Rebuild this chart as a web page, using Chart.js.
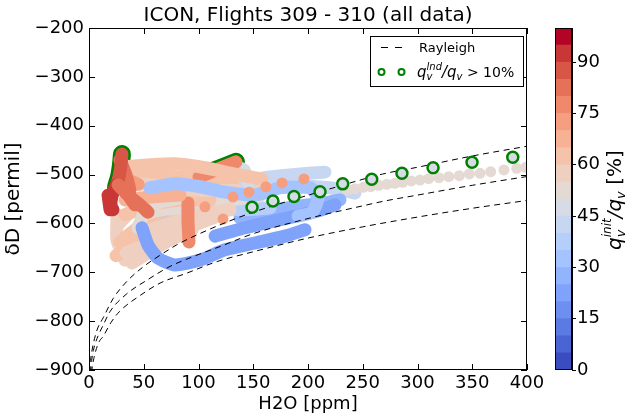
<!DOCTYPE html>
<html><head><meta charset="utf-8">
<script src="https://cdn.jsdelivr.net/npm/chart.js@4.4.0/dist/chart.umd.min.js"></script>
<style>
html,body{margin:0;padding:0;background:#fff;}
#wrap{position:relative;width:629px;height:416px;overflow:hidden;}
#main{position:absolute;left:0;top:0;width:629px;height:416px;}
#cbar{position:absolute;left:540px;top:0;width:89px;height:416px;}
</style></head><body>
<div id="wrap"><canvas id="main" width="629" height="416"></canvas><canvas id="cbar" width="89" height="416"></canvas></div>
<script>
// ---------- axis ticks ----------
const xTicks = [0,50,100,150,200,250,300,350,400];
const yTicks = [-900,-800,-700,-600,-500,-400,-300,-200];
const cbTicks = [0,15,30,45,60,75,90];
const cbEdges = [0,5,10,15,20,25,30,35,40,45,50,55,60,65,70,75,80,85,90,95,100];

// ---------- Rayleigh curves ----------
const rayTopX = [0.8,1.5,3,5,8,13,22,34,50,65,80,100,125,150,187,225,268,300,350,400];
const rayTopY = [-905,-880,-857,-836,-814,-793,-754,-720,-688,-665,-644,-622,-598,-577,-551,-526,-499,-485,-462,-442];
const rayMidX = [1.5,2.5,4,6,8.5,13,19,34,53,74,95,120,150,200,250,268,300,350,400];
const rayMidY = [-905,-880,-860,-844,-829,-808,-781,-745,-716,-688,-668,-647,-621,-590,-564,-555,-542,-522,-504];
const rayLowX = [2.2,3.9,6,9,13,20,28,47,65,89,117,150,200,250,300,350,400];
const rayLowY = [-905,-882,-862,-843,-831,-803,-780,-747,-722,-702,-678,-658,-630,-607,-587,-569,-553];

// ---------- flight tracks: [H2O ppm, dD permil] ----------
const trackR1 = [[30.1,-458],[29.2,-480],[27.4,-505],[24.7,-525]];
const trackR2 = [[24.7,-521],[21.0,-544],[20.1,-564],[21.9,-572]];
const trackR3 = [[26.5,-521],[35.6,-542],[42.0,-562]];
const trackR4 = [[100.5,-505],[115.1,-491],[134.2,-474]];
const trackR5 = [[28.3,-470],[33.8,-501],[37.4,-532]];
const trackR6 = [[17.4,-542],[19.2,-572]];
const trackS1 = [[90.4,-558],[90.4,-593],[91.3,-638]];
const trackS3 = [[37.4,-546],[46.6,-562],[53.9,-577]];
const trackS4 = [[28.0,-500],[37.0,-512],[45.0,-520]];
const trackP1 = [[32.9,-484],[55.7,-480],[78.5,-478],[105.9,-486],[133.3,-499],[158.0,-509]];
const trackP2 = [[35.6,-517],[64.8,-523],[101.4,-532],[137.9,-532],[154.3,-523]];
const trackP3 = [[33.8,-660],[55.7,-640],[78.5,-618],[101.4,-599],[115.1,-587]];
const trackP4 = [[39.3,-681],[55.7,-658],[74.0,-634],[94.1,-613]];
const trackP5 = [[28.3,-638],[42.0,-613],[55.7,-589],[74.0,-564]];
const trackP6 = [[26.5,-603],[37.4,-577],[51.1,-562],[69.4,-552]];
const trackP7 = [[32.9,-552],[55.7,-546],[83.1,-542]];
const trackP8 = [[101.4,-562],[128.8,-552],[156.2,-544]];
const trackP9 = [[24.7,-666],[46.6,-634],[69.4,-603],[92.2,-583]];
const trackP11 = [[25.6,-582],[25.6,-634],[32.9,-675]];
const trackP12 = [[32.9,-582],[55.7,-562],[83.1,-552],[110.5,-552]];
const trackP13 = [[55.7,-613],[78.5,-597],[101.4,-583],[128.8,-572]];
const trackP14 = [[46.6,-583],[64.8,-572],[87.7,-568]];
const trackP15 = [[37.4,-507],[64.8,-503],[92.2,-507],[119.6,-515],[147.0,-523]];
const trackG1 = [[142.5,-513],[165.3,-505],[192.7,-499],[215.5,-495]];
const trackG2 = [[117.8,-491],[130.6,-482],[141.6,-491],[145.2,-515]];
const trackG3 = [[192.7,-523],[220.1,-527],[242.9,-538]];
const trackG4 = [[44.7,-609],[51.1,-577],[63.0,-558],[83.1,-548]];
const trackB1 = [[48.4,-609],[53.9,-644],[63.0,-671],[78.5,-685],[101.4,-675],[124.2,-654],[151.6,-640],[179.0,-626],[197.3,-613]];
const trackB2 = [[115.1,-626],[142.5,-609],[165.3,-597],[192.7,-583],[211.0,-573],[224.7,-562]];
const trackB3 = [[55.7,-527],[78.5,-519],[101.4,-525],[124.2,-536],[151.6,-542],[174.4,-527],[201.8,-527],[209.1,-548],[203.7,-577],[190.9,-585]];
const trackB4 = [[64.8,-583],[87.7,-562],[115.1,-568],[142.5,-572],[165.3,-568]];
const trackB5 = [[137.9,-589],[165.3,-574],[192.7,-564],[215.5,-558],[229.2,-552]];

// tracks drawn bottom -> top, with their q_v^init/q_v value [%]
const trackOrder = [trackG3,trackB5,trackB2,trackB4,trackP8,trackP11,trackP9,trackP6,trackP5,trackP13,trackP3,trackP4,trackP14,trackP12,trackG4,trackS1,trackB1,trackP15,trackP2,trackP7,trackG1,trackG2,trackR4,trackB3,trackP1,trackS4,trackS3,trackR5,trackR1,trackR6,trackR2,trackR3];
const trackVals  = [42,27,22,37,52,57,61,55,63,56,58,57,53,64,51,76,22,60,56,67,44,47,78,32,62,74,80,84,87,93,93,82];
const outlinedTracks = [trackR1, trackR4];   // q_bnd/q_v > 10 % along these

// single samples
const dotsSalmonX = [105.9,122.4,131.5,146.1,161.6,176.3,196.3];
const dotsSalmonY = [-566,-591,-546,-536,-525,-517,-509];
const dotsSalmonVal = 72;
const dotsTanX = [236,243,250.5,257.3,264.6,271.9,279.2,286.5,294.3,302.3,310.2,319.6,328.5,338.2,347.4,357.1,366.8,379.0,390.6,398.8];
const dotsTanY = [-531,-529,-526,-524.8,-522,-519.9,-517.9,-515.8,-513.1,-511.1,-508.4,-506.4,-504.3,-502.3,-498.8,-497.4,-494.1,-490.6,-487.1,-485.1];
const dotsTanVal = 52;
const bndX = [148.9,168.0,187.2,211.0,231.7,258.2,285.8,314.2,349.8,387.0];
const bndY = [-567,-554,-545,-535,-519,-509.7,-497.4,-486,-474.9,-464.6];
const bndVal = 47;
const bndHidX = [55.7,96.8,110.5,76.0,119.6,130.6];
const bndHidY = [-588,-537,-546,-548,-566,-564];

// ---------- coolwarm colormap (20 discrete levels) ----------
const CW = [[0,59,76,192],[0.03125,68,90,204],[0.0625,77,104,215],[0.09375,87,117,225],[0.125,98,130,234],[0.15625,108,142,241],[0.1875,119,154,247],[0.21875,130,165,251],[0.25,141,176,254],[0.28125,152,185,255],[0.3125,163,194,255],[0.34375,174,201,253],[0.375,184,208,249],[0.40625,194,213,244],[0.4375,204,217,238],[0.46875,213,219,230],[0.5,221,221,221],[0.53125,229,216,209],[0.5625,236,211,197],[0.59375,241,204,185],[0.625,245,196,173],[0.65625,247,187,160],[0.6875,247,177,148],[0.71875,247,166,135],[0.75,244,154,123],[0.78125,241,141,111],[0.8125,236,127,99],[0.84375,229,112,88],[0.875,222,96,77],[0.90625,213,80,66],[0.9375,203,62,56],[0.96875,192,40,47],[1,180,4,38]];
function cmap(t){
  for(let i=1;i<CW.length;i++){
    if(t<=CW[i][0]+1e-9){
      const a=CW[i-1], b=CW[i], f=(t-a[0])/(b[0]-a[0]);
      return 'rgb('+[1,2,3].map(k=>Math.round(a[k]+(b[k]-a[k])*f)).join(',')+')';
    }
  }
  return 'rgb(180,4,38)';
}
const NB = cbEdges.length-1;
function valColor(v){
  let i=0; while(i<NB-1 && v>=cbEdges[i+1]) i++;
  return cmap(i/(NB-1));
}

Chart.defaults.font.family = '"DejaVu Sans", sans-serif';
Chart.defaults.color = '#000';

// ---------- build datasets ----------
const layers = [];
const toXY = pts => pts.map(p=>({x:p[0], y:p[1]}));
const zip = (xs,ys) => xs.map((x,i)=>({x:x, y:ys[i]}));
const GREEN = '#008000';
const TW = 13;

layers.push({data:zip(bndHidX,bndHidY), showLine:false, pointRadius:5.5, pointBorderWidth:2.5, pointBorderColor:GREEN, pointBackgroundColor:valColor(bndVal)});
outlinedTracks.forEach(t=>layers.push({data:toXY(t), showLine:true, borderColor:GREEN, borderWidth:TW+5, pointRadius:0, borderCapStyle:'round', borderJoinStyle:'round', tension:0.2}));
trackOrder.forEach((t,i)=>layers.push({data:toXY(t), showLine:true, borderColor:valColor(trackVals[i]), borderWidth:TW, pointRadius:0, borderCapStyle:'round', borderJoinStyle:'round', tension:0.2}));
layers.push({data:zip(dotsSalmonX,dotsSalmonY), showLine:false, pointRadius:5.5, pointBorderWidth:0, pointBackgroundColor:valColor(dotsSalmonVal)});
layers.push({data:zip(dotsTanX,dotsTanY), showLine:false, pointRadius:5.5, pointBorderWidth:0, pointBackgroundColor:valColor(dotsTanVal)});
[[rayTopX,rayTopY],[rayMidX,rayMidY],[rayLowX,rayLowY]].forEach(r=>layers.push({data:zip(r[0],r[1]), showLine:true, borderColor:'#000', borderWidth:1, borderDash:[6,4.5], pointRadius:0, cubicInterpolationMode:'monotone'}));
layers.push({data:zip(bndX,bndY), showLine:false, pointRadius:5.5, pointBorderWidth:2.5, pointBorderColor:GREEN, pointBackgroundColor:valColor(bndVal)});
const N = layers.length;
layers.forEach((d,i)=>{d.order = N-i; d.clip = 0;});

// ---------- math text helper ----------
function drawParts(ctx, x, y, parts){
  let cx = x, lastX = x, lastW = 0;
  parts.forEach(p=>{
    ctx.font = p.font;
    const w = ctx.measureText(p.t).width;
    if(p.stack){
      ctx.fillText(p.t, lastX, y+p.dy);
      if(w>lastW){ cx = lastX + w; lastW = w; }
    } else {
      ctx.fillText(p.t, cx, y+p.dy);
      lastX = cx; lastW = w; cx += w;
    }
  });
}

const framePlugin = {
  id:'frame',
  afterDatasetsDraw(chart){
    const {ctx, chartArea:a, scales:{x,y}} = chart;
    ctx.save();
    ctx.strokeStyle='#000'; ctx.lineWidth=1;
    ctx.beginPath();
    xTicks.forEach(v=>{const p=Math.round(x.getPixelForValue(v))+0.5; ctx.moveTo(p,a.bottom); ctx.lineTo(p,a.bottom-6); ctx.moveTo(p,a.top); ctx.lineTo(p,a.top+6);});
    yTicks.forEach(v=>{const p=Math.round(y.getPixelForValue(v))+0.5; ctx.moveTo(a.left,p); ctx.lineTo(a.left+6,p); ctx.moveTo(a.right,p); ctx.lineTo(a.right-6,p);});
    ctx.stroke();
    ctx.strokeRect(Math.round(a.left)+0.5, Math.round(a.top)+0.5, Math.round(a.right-a.left)-1, Math.round(a.bottom-a.top)-1);
    ctx.restore();
  },
  afterDraw(chart){
    const ctx = chart.ctx;
    ctx.save();
    const L=370.5, T=36.5, R=523.5, B=86.5;
    ctx.fillStyle='#fff'; ctx.fillRect(L,T,R-L,B-T);
    ctx.strokeStyle='#000'; ctx.lineWidth=1; ctx.strokeRect(L,T,R-L,B-T);
    ctx.beginPath(); ctx.moveTo(381,47.5); ctx.lineTo(388,47.5); ctx.moveTo(395,47.5); ctx.lineTo(402,47.5); ctx.stroke();
    ctx.fillStyle='#000'; ctx.textBaseline='alphabetic'; ctx.textAlign='left';
    ctx.font='13px "DejaVu Sans"'; ctx.fillText('Rayleigh', 419, 52);
    ctx.strokeStyle=GREEN; ctx.lineWidth=2;
    [381.5,401.5].forEach(cx=>{ctx.beginPath(); ctx.arc(cx,72,3,0,Math.PI*2); ctx.stroke();});
    ctx.fillStyle='#000';
    drawParts(ctx, 417, 77, [
      {t:'q', font:'italic 15px "DejaVu Sans"', dy:0},
      {t:'v', font:'italic 10px "DejaVu Sans"', dy:3},
      {t:'lnd', font:'italic 10px "DejaVu Sans"', dy:-7, stack:true},
      {t:'/', font:'italic 15px "DejaVu Sans"', dy:0},
      {t:'q', font:'italic 15px "DejaVu Sans"', dy:0},
      {t:'v', font:'italic 10px "DejaVu Sans"', dy:3},
      {t:' > 10%', font:'14px "DejaVu Sans"', dy:0}
    ]);
    ctx.restore();
  }
};

new Chart(document.getElementById('main'), {
  type:'scatter',
  data:{datasets:layers},
  options:{
    responsive:false, animation:false, events:[],
    layout:{padding:{left:0,right:102,top:0,bottom:0}},
    plugins:{
      legend:{display:false}, tooltip:{enabled:false},
      title:{display:true, text:'ICON, Flights 309 - 310 (all data)', color:'#000', fullSize:false,
        font:{size:20, weight:'normal', lineHeight:1}, padding:{top:6,bottom:2}}
    },
    scales:{
      x:{type:'linear', min:0, max:400,
        afterBuildTicks:s=>{s.ticks = xTicks.map(v=>({value:v}));},
        afterFit:s=>{s.height=46;},
        grid:{display:false, drawTicks:false}, border:{display:false},
        ticks:{color:'#000', font:{size:18}, padding:3, maxRotation:0, autoSkip:false},
        title:{display:true, text:'H2O [ppm]', color:'#000', font:{size:18}, padding:{top:0,bottom:1}}},
      y:{type:'linear', min:-900, max:-200,
        afterBuildTicks:s=>{s.ticks = yTicks.map(v=>({value:v}));},
        afterFit:s=>{s.width=89;},
        grid:{display:false, drawTicks:false}, border:{display:false},
        ticks:{color:'#000', font:{size:18}, padding:5, autoSkip:false,
          callback:v=> v<0 ? '\u2212'+Math.abs(v) : String(v)},
        title:{display:true, text:'\u03b4D [permil]', color:'#000', font:{size:20}, padding:{top:2,bottom:0}}}
    }
  },
  plugins:[framePlugin]
});

// ---------- colorbar ----------
const cbPlugin = {
  id:'cbframe',
  afterDraw(chart){
    const {ctx, chartArea:a} = chart;
    ctx.save();
    ctx.strokeStyle='#000'; ctx.lineWidth=1;
    ctx.strokeRect(Math.round(a.left)+0.5, Math.round(a.top)+0.5, Math.round(a.right-a.left)-1, Math.round(a.bottom-a.top)-1);
    ctx.translate(81, 250);
    ctx.rotate(-Math.PI/2);
    ctx.fillStyle='#000'; ctx.textBaseline='alphabetic'; ctx.textAlign='left';
    drawParts(ctx, 0, 0, [
      {t:'q', font:'italic 20px "DejaVu Sans"', dy:0},
      {t:'v', font:'italic 13px "DejaVu Sans"', dy:4},
      {t:'init', font:'italic 12px "DejaVu Sans"', dy:-10, stack:true},
      {t:'/', font:'italic 20px "DejaVu Sans"', dy:0},
      {t:'q', font:'italic 20px "DejaVu Sans"', dy:0},
      {t:'v', font:'italic 13px "DejaVu Sans"', dy:4},
      {t:' [%]', font:'20px "DejaVu Sans"', dy:0}
    ]);
    ctx.restore();
  }
};
new Chart(document.getElementById('cbar'), {
  type:'bar',
  data:{labels:[''], datasets: cbEdges.slice(0,-1).map((e,i)=>({data:[cbEdges[i+1]-e], backgroundColor:cmap(i/(NB-1)), borderWidth:0, barPercentage:1, categoryPercentage:1}))},
  options:{
    responsive:false, animation:false, events:[],
    layout:{padding:{left:15,top:28,bottom:46,right:0}},
    plugins:{legend:{display:false}, tooltip:{enabled:false}, title:{display:false}},
    scales:{
      x:{display:false, stacked:true},
      y:{stacked:true, position:'right', min:0, max:100,
        afterBuildTicks:s=>{s.ticks = cbTicks.map(v=>({value:v}));},
        afterFit:s=>{s.width=57;},
        grid:{drawOnChartArea:false, drawTicks:true, tickLength:4, color:'#000'},
        border:{display:true, color:'#000'},
        ticks:{color:'#000', font:{size:18}, padding:1, autoSkip:false}}
    }
  },
  plugins:[cbPlugin]
});
</script>
</body></html>
